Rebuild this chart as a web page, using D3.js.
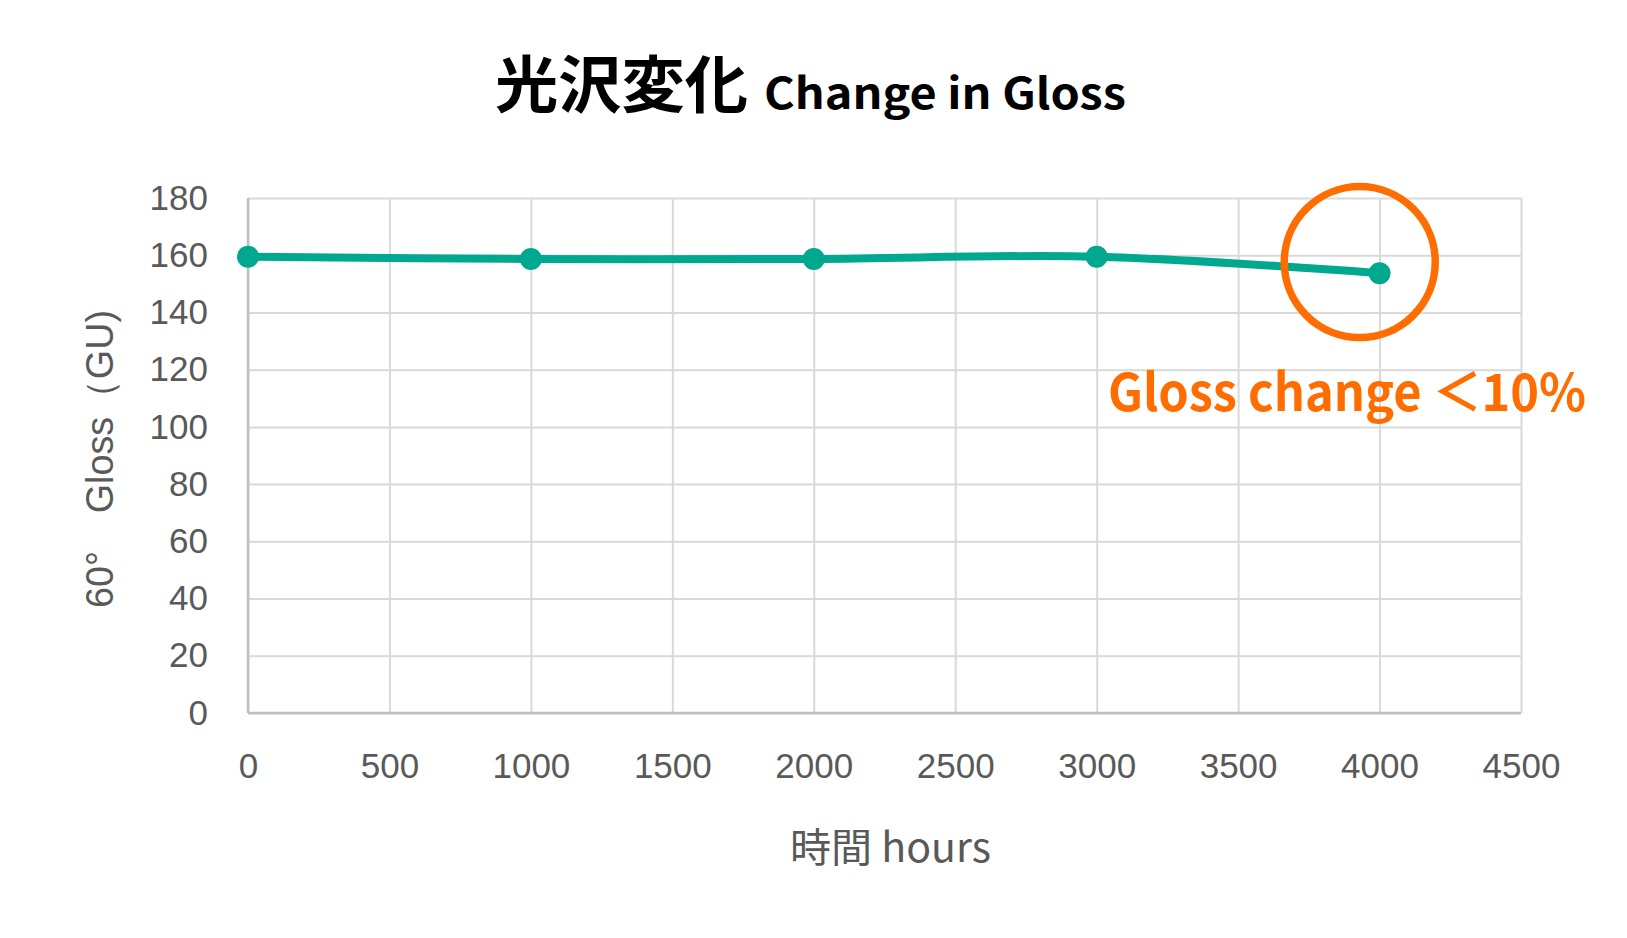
<!DOCTYPE html>
<html>
<head>
<meta charset="utf-8">
<script src="https://cdn.jsdelivr.net/npm/d3@7"></script>
<style>
  body { margin: 0; background: #fff; }
  .tick text { fill: #595959; font-family: "Liberation Sans", Arial, sans-serif; font-size: 35px; }
</style>
</head>
<body>
<svg id="chart" width="1627" height="938"></svg>
<script>
// values
var hours = [0, 1000, 2000, 3000, 4000];
var gloss = [159.5, 158.7, 158.7, 159.5, 153.7];
var xTicks = [0, 500, 1000, 1500, 2000, 2500, 3000, 3500, 4000, 4500];
var yTicks = [0, 20, 40, 60, 80, 100, 120, 140, 160, 180];
var note = {hour: 3930, value: 157.6, text: "Gloss change ＜10%"};

(function() {
var svg = d3.select("#chart"),
    m = {left: 248, right: 1521, top: 198, bottom: 713};

var x = d3.scaleLinear().domain([0, 4500]).range([m.left, m.right]),
    y = d3.scaleLinear().domain([0, 180]).range([m.bottom, m.top]);

// x axis + vertical grid
var gx = svg.append("g")
    .attr("transform", "translate(0," + m.bottom + ")")
    .call(d3.axisBottom(x).tickValues(xTicks).tickSize(-(m.bottom - m.top)).tickFormat(d3.format("d")));
gx.select(".domain").remove();
gx.selectAll(".tick line").attr("stroke", "#d9d9d9").attr("stroke-width", 2);
gx.selectAll(".tick text").attr("y", 53).attr("dy", "0.35em");

// y axis + horizontal grid
var gy = svg.append("g")
    .attr("transform", "translate(" + m.left + ",0)")
    .call(d3.axisLeft(y).tickValues(yTicks).tickSize(-(m.right - m.left)).tickPadding(40));
gy.select(".domain").remove();
gy.selectAll(".tick line").attr("stroke", "#d9d9d9").attr("stroke-width", 2);

// axis lines
svg.append("line").attr("x1", m.left).attr("x2", m.left).attr("y1", m.top).attr("y2", m.bottom)
    .attr("stroke", "#bfbfbf").attr("stroke-width", 2.5);
svg.append("line").attr("x1", m.left).attr("x2", m.right).attr("y1", m.bottom).attr("y2", m.bottom)
    .attr("stroke", "#bfbfbf").attr("stroke-width", 2.5);

// series
var pts = hours.map(function(h, i) { return {h: h, v: gloss[i]}; });
var line = d3.line()
    .curve(d3.curveCardinal.tension(0))
    .x(function(d) { return x(d.h); })
    .y(function(d) { return y(d.v); });

svg.append("path")
    .datum(pts)
    .attr("d", line)
    .attr("fill", "none")
    .attr("stroke", "#00a88f")
    .attr("stroke-width", 8)
    .attr("stroke-linecap", "round");

svg.selectAll(".dot")
    .data(pts)
    .enter().append("circle")
    .attr("class", "dot")
    .attr("cx", function(d) { return x(d.h); })
    .attr("cy", function(d) { return y(d.v); })
    .attr("r", 11)
    .attr("fill", "#00a88f");

// annotation
svg.append("circle")
    .attr("cx", x(note.hour))
    .attr("cy", y(note.value))
    .attr("r", 75.5)
    .attr("fill", "none")
    .attr("stroke", "#ff6d00")
    .attr("stroke-width", 7.5);

svg.append("text")
    .attr("x", 1108).attr("y", 411)
    .attr("textLength", 478).attr("lengthAdjust", "spacingAndGlyphs")
    .style("font", "bold 52px 'Noto Sans CJK JP', sans-serif")
    .style("fill", "#ff6d00")
    .text(note.text);

// title
svg.append("text")
    .attr("x", 495).attr("y", 108)
    .attr("textLength", 253).attr("lengthAdjust", "spacingAndGlyphs")
    .style("font", "bold 62px 'Noto Sans CJK JP', sans-serif")
    .style("fill", "#000")
    .text("光沢変化");
svg.append("text")
    .attr("x", 764).attr("y", 109)
    .attr("textLength", 362).attr("lengthAdjust", "spacingAndGlyphs")
    .style("font", "bold 43px 'Noto Sans CJK JP', sans-serif")
    .style("fill", "#000")
    .text("Change in Gloss");

// axis titles
svg.append("text")
    .attr("x", 790).attr("y", 862)
    .attr("textLength", 201).attr("lengthAdjust", "spacingAndGlyphs")
    .style("font", "40px 'Noto Sans CJK JP', sans-serif")
    .style("fill", "#595959")
    .text("時間 hours");

svg.append("text")
    .attr("transform", "translate(113,608) rotate(-90)")
    .attr("textLength", 298).attr("lengthAdjust", "spacingAndGlyphs")
    .style("font", "38px 'Liberation Sans', Arial, sans-serif")
    .style("fill", "#595959")
    .text("60°　Gloss（GU)");
})();
</script>
</body>
</html>
